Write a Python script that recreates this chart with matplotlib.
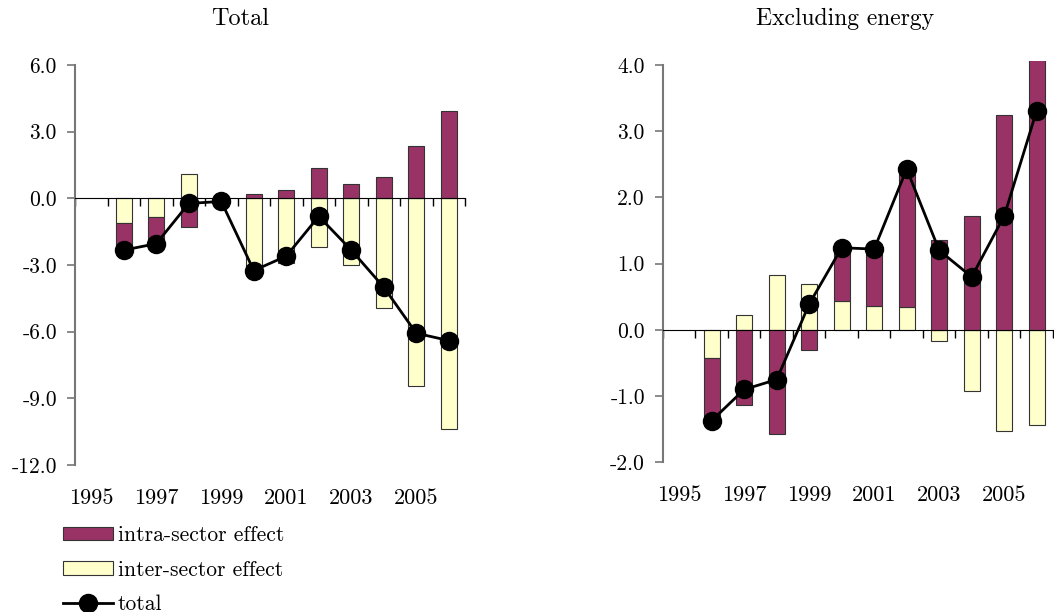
import numpy as np
import matplotlib
matplotlib.use("Agg")
import matplotlib.pyplot as plt
from matplotlib.lines import Line2D
from matplotlib.patches import Patch

plt.rcParams['font.family'] = ['cmr10', 'DejaVu Serif']
plt.rcParams['font.size'] = 15
plt.rcParams['axes.unicode_minus'] = False

years = list(range(1995, 2007))

# left panel: Total
tot_intra = [np.nan, -1.21, -1.20, -1.31, -0.04, 0.21, 0.36, 1.35, 0.66, 0.95, 2.37, 3.95]
tot_inter = [np.nan, -1.12, -0.84, 1.08, -0.10, -3.44, -2.92, -2.17, -3.00, -4.95, -8.45, -10.36]
tot_total = [np.nan, -2.33, -2.04, -0.23, -0.14, -3.25, -2.60, -0.81, -2.33, -4.00, -6.07, -6.40]

# right panel: Excluding energy
ex_intra = [np.nan, -0.94, -1.13, -1.58, -0.31, 0.80, 0.85, 2.08, 1.36, 1.72, 3.25, 4.74]
ex_inter = [np.nan, -0.43, 0.23, 0.83, 0.69, 0.44, 0.36, 0.35, -0.17, -0.92, -1.53, -1.43]
ex_total = [np.nan, -1.37, -0.90, -0.75, 0.39, 1.24, 1.22, 2.43, 1.20, 0.80, 1.72, 3.31]

year_labels = ['1995', '1997', '1999', '2001', '2003', '2005']

PURPLE = '#993366'
YELLOW = '#FFFFCC'
EDGE = '#333333'


def panel(ax, intra, inter, total, ylim, yticks, ytick_fmt):
    x = np.arange(len(years))
    intra = np.array(intra)
    inter = np.array(inter)
    same = np.sign(intra) == np.sign(inter)
    bottom = np.where(same, inter, 0.0)
    ax.bar(x, inter, width=0.5, color=YELLOW, edgecolor=EDGE, linewidth=0.8, zorder=2)
    ax.bar(x, intra, bottom=bottom, width=0.5, color=PURPLE, edgecolor=EDGE, linewidth=0.8, zorder=2)
    ax.plot(x, total, color='black', lw=2, marker='o', markersize=13, zorder=4)

    ax.set_xlim(-0.5, len(years) - 0.5)
    ax.set_ylim(*ylim)

    ax.spines['top'].set_visible(False)
    ax.spines['right'].set_visible(False)
    ax.spines['bottom'].set_position(('data', 0))
    ax.spines['bottom'].set_color('black')
    ax.spines['bottom'].set_zorder(3)
    ax.spines['left'].set_color('#777777')
    ax.spines['left'].set_linewidth(1.5)
    ax.spines['left'].set_bounds(yticks[0], yticks[-1])

    ax.set_yticks(yticks)
    ax.set_yticklabels([ytick_fmt % v for v in yticks], fontsize=15.5)
    ax.tick_params(axis='y', direction='out', length=6, width=1.2, color='#777777', pad=7)

    ax.set_xticks(np.arange(len(years) + 1) - 0.5)
    ax.set_xticklabels([])
    ax.tick_params(axis='x', direction='out', length=6, width=1, color='black')

    sec = ax.secondary_xaxis(0)
    sec.set_xticks([years.index(int(y)) for y in year_labels])
    sec.set_xticklabels(year_labels, fontsize=16)
    sec.tick_params(length=0, pad=17)
    sec.spines['bottom'].set_visible(False)


fig = plt.figure(figsize=(10.54, 6.12), dpi=100)
ax1 = fig.add_axes([0.0712, 0.2402, 0.370, 0.6536])
ax2 = fig.add_axes([0.629, 0.2446, 0.370, 0.6557])

panel(ax1, tot_intra, tot_inter, tot_total, (-12, 6),
      [-12, -9, -6, -3, 0, 3, 6], '%.1f')
panel(ax2, ex_intra, ex_inter, ex_total, (-2, 4.06),
      [-2, -1, 0, 1, 2, 3, 4], '%.1f')

fig.text(240 / 1054, 1 - 19 / 612, 'Total', ha='center', va='center', fontsize=17.5)
fig.text(845 / 1054, 1 - 19 / 612, 'Excluding energy', ha='center', va='center', fontsize=17)

handles = [Patch(facecolor=PURPLE, edgecolor=EDGE, linewidth=0.8),
           Patch(facecolor=YELLOW, edgecolor=EDGE, linewidth=0.8),
           Line2D([], [], color='black', lw=2, marker='o', markersize=13)]
fig.legend(handles, ['intra-sector effect', 'inter-sector effect', 'total'],
           loc='upper left', bbox_to_anchor=(0.0598, 0.141), frameon=False,
           borderpad=0, borderaxespad=0, handlelength=2.3, handleheight=0.6,
           handletextpad=0.25, labelspacing=0.69, fontsize=15.5)

plt.savefig('out.png', dpi=100)
